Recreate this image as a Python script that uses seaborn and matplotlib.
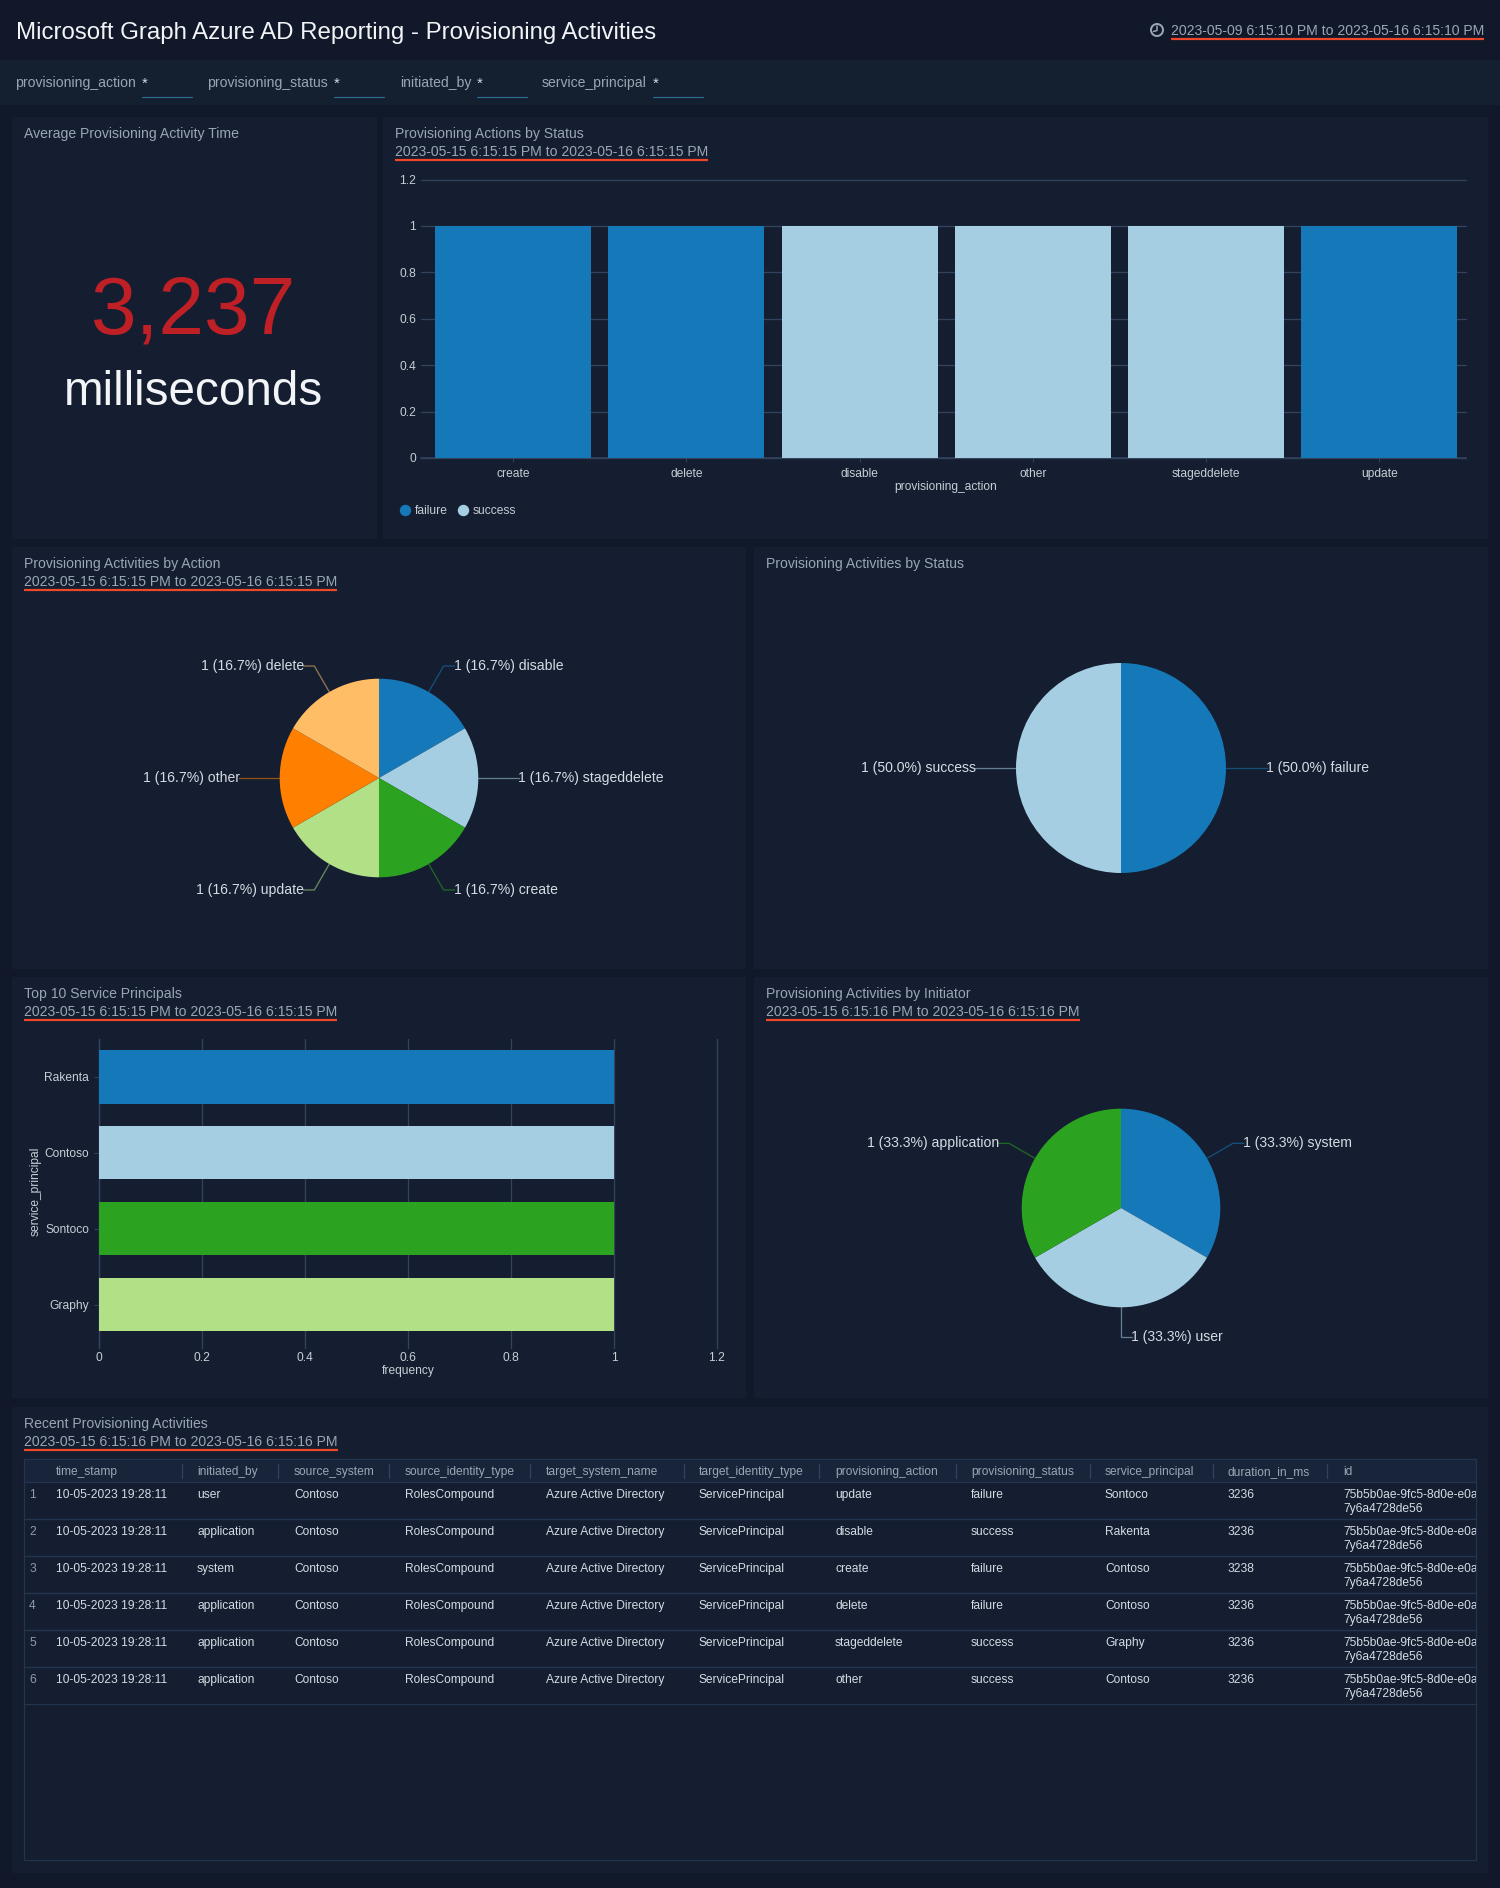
#!/usr/bin/env python3
# -*- coding: utf-8 -*-
"""Provisioning Activities dashboard, drawn in pixel positions on one figure."""

import numpy as np
import pandas as pd
import matplotlib
matplotlib.use("Agg")
import matplotlib.pyplot as plt
import seaborn as sns
from matplotlib.lines import Line2D
from matplotlib.patches import Circle, Rectangle

# --- DATA ---
DASH_TITLE = "Microsoft Graph Azure AD Reporting - Provisioning Activities"
DASH_RANGE = "2023-05-09 6:15:10 PM to 2023-05-16 6:15:10 PM"
FILTER_NAMES = ["provisioning_action", "provisioning_status", "initiated_by", "service_principal"]
RANGE_15 = "2023-05-15 6:15:15 PM to 2023-05-16 6:15:15 PM"
RANGE_16 = "2023-05-15 6:15:16 PM to 2023-05-16 6:15:16 PM"

AVG_VALUE = "3,237"
AVG_UNIT = "milliseconds"

BAR_ACTIONS = ["create", "delete", "disable", "other", "stageddelete", "update"]
BAR_VALUES = [1, 1, 1, 1, 1, 1]
BAR_STATUS = ["failure", "failure", "success", "success", "success", "failure"]

PIE_ACTION_LABELS = ["disable", "stageddelete", "create", "update", "other", "delete"]
PIE_ACTION_VALUES = [1, 1, 1, 1, 1, 1]
PIE_STATUS_LABELS = ["failure", "success"]
PIE_STATUS_VALUES = [1, 1]
PIE_INIT_LABELS = ["system", "user", "application"]
PIE_INIT_VALUES = [1, 1, 1]

PRINCIPALS = ["Rakenta", "Contoso", "Sontoco", "Graphy"]
PRINCIPAL_FREQ = [1, 1, 1, 1]

TABLE_HEADERS = ["time_stamp", "initiated_by", "source_system", "source_identity_type",
                 "target_system_name", "target_identity_type", "provisioning_action",
                 "provisioning_status", "service_principal", "duration_in_ms", "id"]
COL_TIME = ["10-05-2023 19:28:11"] * 6
COL_INIT = ["user", "application", "system", "application", "application", "application"]
COL_SOURCE = ["Contoso"] * 6
COL_SOURCE_TYPE = ["RolesCompound"] * 6
COL_TARGET = ["Azure Active Directory"] * 6
COL_TARGET_TYPE = ["ServicePrincipal"] * 6
COL_ACTION = ["update", "disable", "create", "delete", "stageddelete", "other"]
COL_STATUS = ["failure", "success", "failure", "failure", "success", "success"]
COL_PRINCIPAL = ["Sontoco", "Rakenta", "Contoso", "Contoso", "Graphy", "Contoso"]
COL_DURATION = ["3236", "3236", "3238", "3236", "3236", "3236"]
COL_ID = ["75b5b0ae-9fc5-8d0e-e0a8\n7y6a4728de56"] * 6

# --- STYLE ---
W, H = 1500, 1888
PAGE = "#101829"
BAR_BG = "#141f30"
PANEL = "#141e30"
HEAD_ROW = "#18243a"
GRID = "#33435f"
TITLE_C = "#9aa5b4"
TICK_C = "#c8cdd4"
CELL_C = "#d5dbe3"
ORANGE = "#f0472a"
PALETTE = ["#1578b8", "#a6cee3", "#2ca320", "#b2e087", "#ff7f00", "#ffbe66"]

sns.set_theme(style="dark", rc={"axes.facecolor": "none", "figure.facecolor": PAGE})
plt.rcParams["font.family"] = ["Liberation Sans", "DejaVu Sans"]

fig = plt.figure(figsize=(W / 100, H / 100), dpi=100, facecolor=PAGE)
bg = fig.add_axes([0, 0, 1, 1], zorder=0)
bg.set_xlim(0, W)
bg.set_ylim(H, 0)
bg.axis("off")
renderer = fig.canvas.get_renderer()


def px(size):
    return size * 0.72


def put(x, y, s, size=14, color=TITLE_C, ha="left", **kw):
    # y is the optical centre of the line, converted to a baseline
    return bg.text(x, y + 0.36 * size, s, fontsize=px(size), color=color, ha=ha, va="baseline", **kw)


def box(x0, y0, x1, y1, color):
    bg.add_patch(Rectangle((x0, y0), x1 - x0, y1 - y0, facecolor=color, edgecolor="none"))


def axes_px(x0, y0, x1, y1, zorder=2):
    return fig.add_axes([x0 / W, 1 - y1 / H, (x1 - x0) / W, (y1 - y0) / H], zorder=zorder)


def underlined(x, y, s, ha="left"):
    t = put(x, y, s, ha=ha)
    ext = t.get_window_extent(renderer)
    bg.plot([ext.x0, ext.x1], [y + 9, y + 9], color=ORANGE, lw=px(2.2), solid_capstyle="butt")


def panel(x0, y0, x1, y1, title, date=None, text_top=None):
    box(x0, y0, x1, y1, PANEL)
    top = y0 if text_top is None else text_top
    put(x0 + 12, top + 16, title)
    if date:
        underlined(x0 + 12, top + 34, date)


def pie_panel(cx, cy, r, labels, values):
    ax = axes_px(cx - r, cy - r, cx + r, cy + r)
    wedges, _ = ax.pie(values, colors=PALETTE[:len(values)], startangle=90, counterclock=False,
                       radius=1, wedgeprops={"linewidth": 0})
    ax.set_xlim(-1, 1)
    ax.set_ylim(-1, 1)
    total = sum(values)
    for w, lab, val in zip(wedges, labels, values):
        a = np.deg2rad((w.theta1 + w.theta2) / 2)
        ca, sa = np.cos(a), np.sin(a)
        side = 1 if ca > -1e-6 else -1
        ex, ey = cx + r * ca, cy - r * sa
        kx, ky = cx + (r + 30) * ca, cy - (r + 30) * sa
        tx = kx + 11 * side
        bg.plot([ex, kx, tx], [ey, ky, ky], color=w.get_facecolor(), alpha=0.55, lw=px(1.3))
        text = f"{val} ({val / total * 100:.1f}%) {lab}"
        put(tx - side, ky - 1.5, text, size=14, color=CELL_C, ha="left" if side > 0 else "right")


def unclip_grid(lines):
    for line in lines:
        line.set_clip_on(False)


# --- HEADER AND FILTERS ---
box(0, 60, W, 105, BAR_BG)
put(16, 30, DASH_TITLE, size=24, color="#f2f4f7")
underlined(1484, 30, DASH_RANGE, ha="right")
bg.add_patch(Circle((1157, 30), 6, facecolor="none", edgecolor=TITLE_C, lw=px(2)))
bg.plot([1157, 1157, 1153.5], [26, 30.5, 31.5], color=TITLE_C, lw=px(1.5))
for name, lx, sx in zip(FILTER_NAMES, [15, 207, 400, 542], [142, 334, 477, 653]):
    put(lx, 82, name)
    put(sx, 82, "*", size=15, color="#d5dbe3")
    bg.plot([sx, sx + 50], [96.5, 96.5], color="#2f6d94", lw=px(1.2))

# --- PANELS ---
panel(12, 117, 377, 539, "Average Provisioning Activity Time")
panel(383, 117, 1488, 539, "Provisioning Actions by Status", RANGE_15)
panel(12, 547, 746, 969, "Provisioning Activities by Action", RANGE_15)
panel(754, 547, 1488, 969, "Provisioning Activities by Status")
panel(12, 977, 746, 1398, "Top 10 Service Principals", RANGE_15)
panel(754, 977, 1488, 1398, "Provisioning Activities by Initiator", RANGE_16)
panel(12, 1407, 1488, 1873, "Recent Provisioning Activities", RANGE_16)

put(194, 304, AVG_VALUE, size=82, color="#bf2026", ha="center")
put(194, 388, AVG_UNIT, size=47.6, color="#f2f4f7", ha="center")

# --- STATUS BARS ---
bars_df = pd.DataFrame({"provisioning_action": BAR_ACTIONS, "value": BAR_VALUES, "status": BAR_STATUS})
status_colors = {"failure": PALETTE[0], "success": PALETTE[1]}
ax = axes_px(421, 179.5, 1466, 458)
sns.barplot(data=bars_df, x="provisioning_action", y="value", hue="status", palette=status_colors,
            dodge=False, width=0.9, saturation=1, legend=False, linewidth=0, ax=ax, zorder=3)
ax.set_ylim(0, 1.2)
ax.set_xlim(-0.531, 5.5)
ax.set_yticks(np.arange(0, 1.21, 0.2))
ax.set_yticklabels(["0", "0.2", "0.4", "0.6", "0.8", "1", "1.2"])
ax.grid(axis="y", color=GRID, lw=px(1.3))
unclip_grid(ax.get_ygridlines())
ax.set_axisbelow(True)
for s in ["top", "left", "right"]:
    ax.spines[s].set_visible(False)
ax.spines["bottom"].set_color(GRID)
ax.spines["bottom"].set_linewidth(px(1.5))
ax.tick_params(axis="y", length=0, pad=px(5), labelsize=px(12), labelcolor=TICK_C)
ax.tick_params(axis="x", length=px(4), width=px(1), color=GRID, pad=px(6), labelsize=px(12),
               labelcolor=TICK_C, bottom=True)
ax.set_xlabel("provisioning_action", fontsize=px(12), color=TICK_C, labelpad=px(1), x=0.5023)
ax.set_ylabel("")
handles = [Line2D([], [], marker="o", ls="", color=status_colors[k], markersize=px(10), label=k)
           for k in ["failure", "success"]]
ax.legend(handles=handles, loc="center left", bbox_to_anchor=(399, 511), bbox_transform=bg.transData,
          ncol=2, frameon=False, fontsize=px(12), labelcolor=TICK_C, handlelength=1, handletextpad=0.33,
          columnspacing=0.75, borderpad=0, borderaxespad=0)

# --- PIES ---
pie_panel(379, 778, 99.3, PIE_ACTION_LABELS, PIE_ACTION_VALUES)
pie_panel(1121, 768, 105, PIE_STATUS_LABELS, PIE_STATUS_VALUES)
pie_panel(1121, 1208, 99.3, PIE_INIT_LABELS, PIE_INIT_VALUES)

# --- SERVICE PRINCIPALS ---
sp_df = pd.DataFrame({"service_principal": PRINCIPALS, "frequency": PRINCIPAL_FREQ})
ax = axes_px(99.3, 1039, 717, 1348)
sns.barplot(data=sp_df, y="service_principal", x="frequency", hue="service_principal",
            palette=PALETTE[:4], orient="h", width=0.7, saturation=1, legend=False, linewidth=0,
            ax=ax, zorder=3)
ax.set_xlim(0, 1.2)
ax.set_ylim(3.57, -0.5)
ax.set_xticks(np.arange(0, 1.21, 0.2))
ax.set_xticklabels(["0", "0.2", "0.4", "0.6", "0.8", "1", "1.2"])
ax.grid(axis="x", color=GRID, lw=px(1.3))
unclip_grid(ax.get_xgridlines())
ax.set_axisbelow(True)
for s in ["top", "right", "bottom"]:
    ax.spines[s].set_visible(False)
ax.spines["left"].set_color(GRID)
ax.spines["left"].set_linewidth(px(1.3))
ax.tick_params(axis="x", length=0, pad=px(4), labelsize=px(12), labelcolor=TICK_C)
ax.tick_params(axis="y", length=px(5), width=px(1), color=GRID, pad=px(5), labelsize=px(12),
               labelcolor=TICK_C, left=True)
ax.set_xlabel("frequency", fontsize=px(12), color=TICK_C, labelpad=px(1))
ax.set_ylabel("")
bg.text(38.5, 1191, "service_principal", fontsize=px(12), color=TICK_C, ha="center", va="baseline",
        rotation=90, rotation_mode="anchor")

# --- TABLE ---
tx0, tx1, ty0, ty1 = 24, 1476, 1459, 1860
head_bottom, row_h = 1482, 37
col_x = [56, 197, 294, 405, 546, 699, 835, 971, 1105, 1228, 1343]
sep_x = [182, 278, 389, 530, 684, 819, 956, 1090, 1213, 1327]
columns = [COL_TIME, COL_INIT, COL_SOURCE, COL_SOURCE_TYPE, COL_TARGET, COL_TARGET_TYPE,
           COL_ACTION, COL_STATUS, COL_PRINCIPAL, COL_DURATION, COL_ID]
border = "#22344f"
box(tx0, ty0, tx1, head_bottom, HEAD_ROW)
bg.add_patch(Rectangle((tx0, ty0), tx1 - tx0, ty1 - ty0, facecolor="none", edgecolor=border, lw=px(1.2)))
clip = Rectangle((tx0, ty0), tx1 - tx0, ty1 - ty0, transform=bg.transData)
for name, x in zip(TABLE_HEADERS, col_x):
    put(x, 1471, name, size=12)
for x in sep_x:
    bg.plot([x, x], [1464, 1478], color="#33435e", lw=px(1.2))
for i in range(len(COL_TIME)):
    top = head_bottom + i * row_h
    bg.plot([tx0, tx1], [top + row_h, top + row_h], color=border, lw=px(1.2))
    bg.plot([tx0, tx1], [top, top], color=border, lw=px(1.2))
    put(29, top + 12, str(i + 1), size=12, color="#8e9bad")
    for col, x in zip(columns, col_x):
        for j, line in enumerate(col[i].split("\n")):
            t = put(x, top + 12 + j * 14, line, size=12, color=CELL_C)
            t.set_clip_path(clip)
            t.set_clip_on(True)

fig.savefig("out.png", dpi=100, facecolor=PAGE)
